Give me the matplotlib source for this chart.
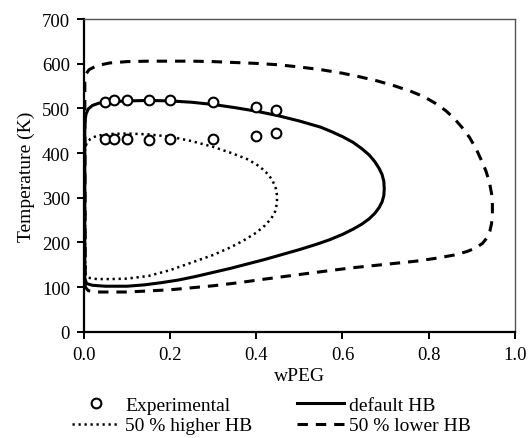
import matplotlib
matplotlib.use("Agg")
import matplotlib.pyplot as plt

plt.rcParams['font.family'] = ['Liberation Serif', 'DejaVu Serif']

# Experimental cloud points (upper and lower branch)
exp_x = [0.05, 0.07, 0.10, 0.15, 0.20, 0.30, 0.40, 0.445]
exp_upper = [515, 518, 518, 519, 518, 514, 503, 497]
exp_lower = [431, 431, 431, 430, 431, 431, 439, 446]

# default HB (solid)
def_x = [0.002, 0.002, 0.006, 0.02, 0.05, 0.10, 0.14, 0.18, 0.22, 0.26, 0.30, 0.34,
         0.38, 0.42, 0.46, 0.50, 0.54, 0.57, 0.60, 0.625, 0.645, 0.662, 0.675, 0.685,
         0.692, 0.696, 0.697, 0.696, 0.692, 0.685, 0.675, 0.662, 0.645, 0.625, 0.60,
         0.575, 0.55, 0.50, 0.45, 0.40, 0.35, 0.30, 0.25, 0.20, 0.15, 0.10, 0.06,
         0.035, 0.02, 0.01, 0.005, 0.002]
def_T = [470, 120, 108, 104, 102, 102, 105, 110, 116, 124, 133, 142,
         152, 162, 173, 184, 196, 206, 218, 230, 241, 253, 265, 278,
         291, 305, 320, 337, 352, 366, 381, 396, 410, 424, 437,
         448, 458, 472, 484, 494, 502, 509, 514, 517, 518, 517, 515,
         512, 507, 499, 488, 470]

# 50 % higher HB (dotted)
hi_x = [0.002, 0.003, 0.01, 0.03, 0.06, 0.10, 0.15, 0.20, 0.25, 0.30, 0.34, 0.37,
        0.40, 0.42, 0.435, 0.444, 0.448, 0.448, 0.445, 0.438, 0.428, 0.415, 0.40,
        0.378, 0.34, 0.30, 0.25, 0.20, 0.15, 0.10, 0.06, 0.03, 0.015, 0.006, 0.002]
hi_T = [400, 130, 121, 118, 118, 119, 125, 138, 155, 172, 189, 204,
        222, 238, 254, 270, 288, 306, 322, 338, 352, 364, 375,
        387, 401, 414, 427, 437, 442, 444, 443, 439, 432, 422, 405]

# 50 % lower HB (dashed)
lo_x = [0.002, 0.003, 0.01, 0.03, 0.10, 0.20, 0.30, 0.36, 0.42, 0.53, 0.62, 0.71,
        0.77, 0.82, 0.86, 0.89, 0.91, 0.925, 0.935, 0.942, 0.946, 0.948, 0.948,
        0.946, 0.941, 0.933, 0.922, 0.91, 0.895, 0.878, 0.86, 0.84, 0.815, 0.79,
        0.76, 0.72, 0.68, 0.64, 0.60, 0.55, 0.50, 0.45, 0.40, 0.35, 0.30, 0.25,
        0.20, 0.15, 0.10, 0.06, 0.03, 0.012, 0.003]
lo_T = [560, 100, 92, 89, 89, 94, 103, 110, 118, 132, 143, 152,
        158, 165, 172, 180, 188, 198, 210, 225, 242, 262, 285,
        310, 335, 360, 385, 410, 435, 457, 477, 495, 512, 526,
        538, 551, 562, 571, 579, 587, 593, 598, 601, 603, 605, 606,
        606, 606, 605, 602, 596, 587, 575]

fig = plt.figure(figsize=(5.28, 4.39), dpi=100)
ax = fig.add_axes([0.159, 0.242, 0.816, 0.712])

ax.plot(exp_x, exp_upper, 'o', mfc='white', mec='black', ms=7, mew=1.5,
        label='Experimental', zorder=5)
ax.plot(exp_x, exp_lower, 'o', mfc='white', mec='black', ms=7, mew=1.5, zorder=5)
ax.plot(hi_x, hi_T, color='black', lw=1.8, linestyle=(0, (0.9, 1.5)),
        label='50 % higher HB')
ax.plot(def_x, def_T, color='black', lw=2.2, label='default HB')
ax.plot(lo_x, lo_T, color='black', lw=2.2, linestyle=(0, (3.4, 2.6)),
        label='50 % lower HB')

ax.set_xlim(0, 1.0)
ax.set_ylim(0, 700)
ax.set_xticks([0.0, 0.2, 0.4, 0.6, 0.8, 1.0])
ax.set_xticklabels(['0.0', '0.2', '0.4', '0.6', '0.8', '1.0'])
ax.set_yticks(range(0, 701, 100))
ax.tick_params(direction='out', length=5, width=1.4, labelsize=13.5, pad=5)
ax.tick_params(top=False, right=False)

for s in ['left', 'bottom']:
    ax.spines[s].set_linewidth(1.6)
    ax.spines[s].set_color('black')
for s in ['top', 'right']:
    ax.spines[s].set_linewidth(1.0)
    ax.spines[s].set_color('#555555')

ax.set_xlabel('wPEG', fontsize=14, labelpad=3)
ax.set_ylabel('Temperature (K)', fontsize=14, labelpad=5)

handles, labels = ax.get_legend_handles_labels()
fig.legend(handles, labels, loc='upper center', bbox_to_anchor=(0.515, 0.117),
           ncol=2, frameon=False, fontsize=14, handlelength=2.4,
           columnspacing=2.3, labelspacing=0.15, handletextpad=0.3, borderpad=0)

fig.savefig('out.png', dpi=100)
